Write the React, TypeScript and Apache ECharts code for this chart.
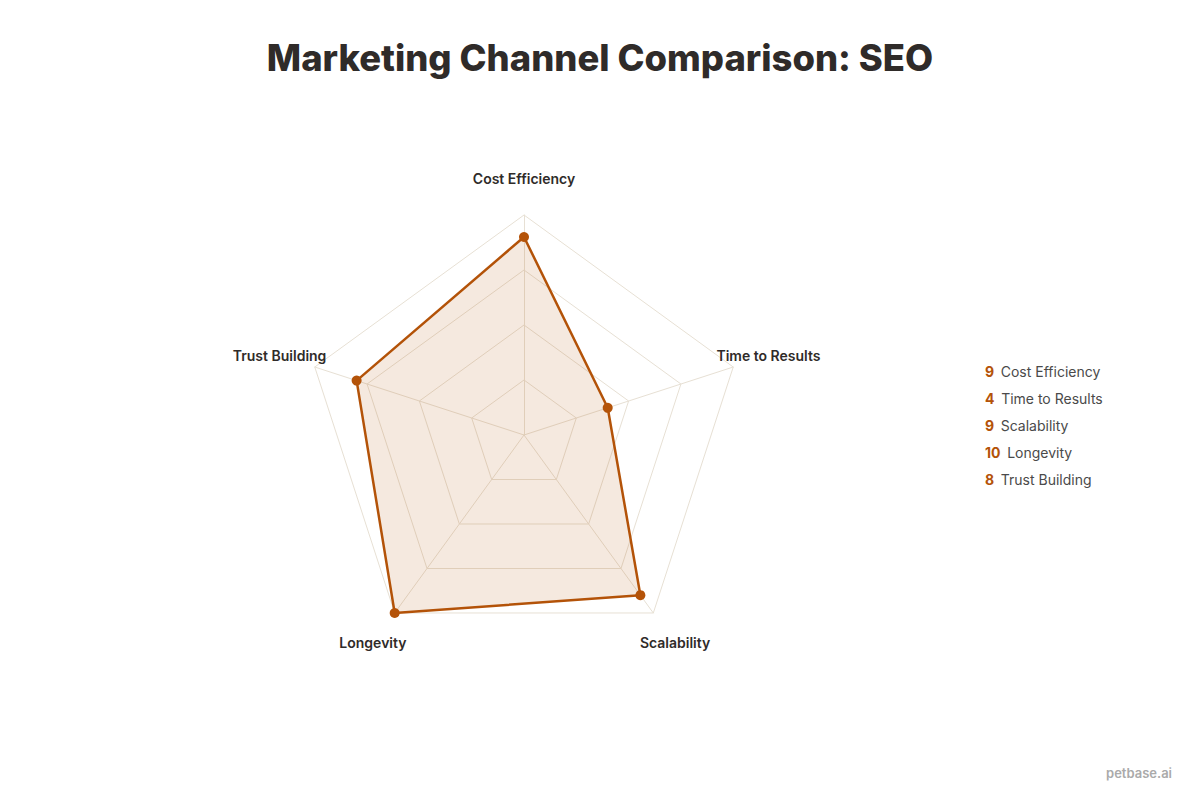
import { useEffect, useRef } from "react";
import * as echarts from "echarts";

const indicators = ["Cost Efficiency", "Time to Results", "Scalability", "Longevity", "Trust Building"];
const scores = [9, 4, 9, 10, 8];
const maxScore = 10;

const ACCENT = "#b45309";
const INK = "#2f2b29";

export default function App(): JSX.Element {
  const chartRef = useRef<HTMLDivElement>(null);

  useEffect(() => {
    document.body.style.margin = "0";
    const chart = echarts.init(chartRef.current, null, { renderer: "svg" });

    // echarts lays radar indicators out counter-clockwise; the reference goes clockwise
    const order = [0, ...indicators.map((_, i) => i).slice(1).reverse()];

    const legendTexts = indicators.map((name, i) => ({
      type: "text",
      left: 985,
      top: 364 + i * 27,
      style: {
        text: `{n|${scores[i]}}  {l|${name}}`,
        rich: {
          n: { fontFamily: "Inter", fontSize: 14, fontWeight: 700, fill: ACCENT },
          l: { fontFamily: "Inter", fontSize: 14, fill: "#4a4a4a" },
        },
      },
    }));

    const option = {
      animation: false,
      backgroundColor: "#fff",
      title: {
        text: "Marketing Channel Comparison: SEO",
        left: "center",
        top: 35,
        textStyle: {
          fontFamily: "Inter",
          fontSize: 36.4,
          fontWeight: 800,
          color: INK,
        },
      },
      radar: {
        center: [524, 435],
        radius: 220,
        startAngle: 90,
        splitNumber: 4,
        shape: "polygon",
        indicator: order.map((i) => ({ name: indicators[i], max: maxScore, min: 0 })),
        nameGap: 37,
        axisName: {
          color: INK,
          fontFamily: "Inter",
          fontSize: 14,
          fontWeight: 600,
          align: "center",
          verticalAlign: "middle",
        },
        splitLine: { lineStyle: { color: "#e7e0d4", width: 1 } },
        splitArea: { show: false },
        axisLine: { lineStyle: { color: "#e7e0d4", width: 1 } },
      },
      series: [
        {
          type: "radar",
          symbol: "circle",
          symbolSize: 10,
          lineStyle: { color: ACCENT, width: 2.5 },
          itemStyle: { color: ACCENT },
          areaStyle: { color: ACCENT, opacity: 0.13 },
          data: [{ value: order.map((i) => scores[i]), name: "SEO" }],
        },
      ],
      graphic: [
        ...legendTexts,
        {
          type: "text",
          right: 28,
          top: 766,
          style: {
            text: "petbase.ai",
            fontFamily: "Inter",
            fontSize: 13,
            fontWeight: 600,
            fill: "#aaa",
          },
        },
      ],
    };

    chart.setOption(option);
    return () => {
      chart.dispose();
    };
  }, []);

  return <div ref={chartRef} style={{ width: 1200, height: 800 }}></div>;
}
